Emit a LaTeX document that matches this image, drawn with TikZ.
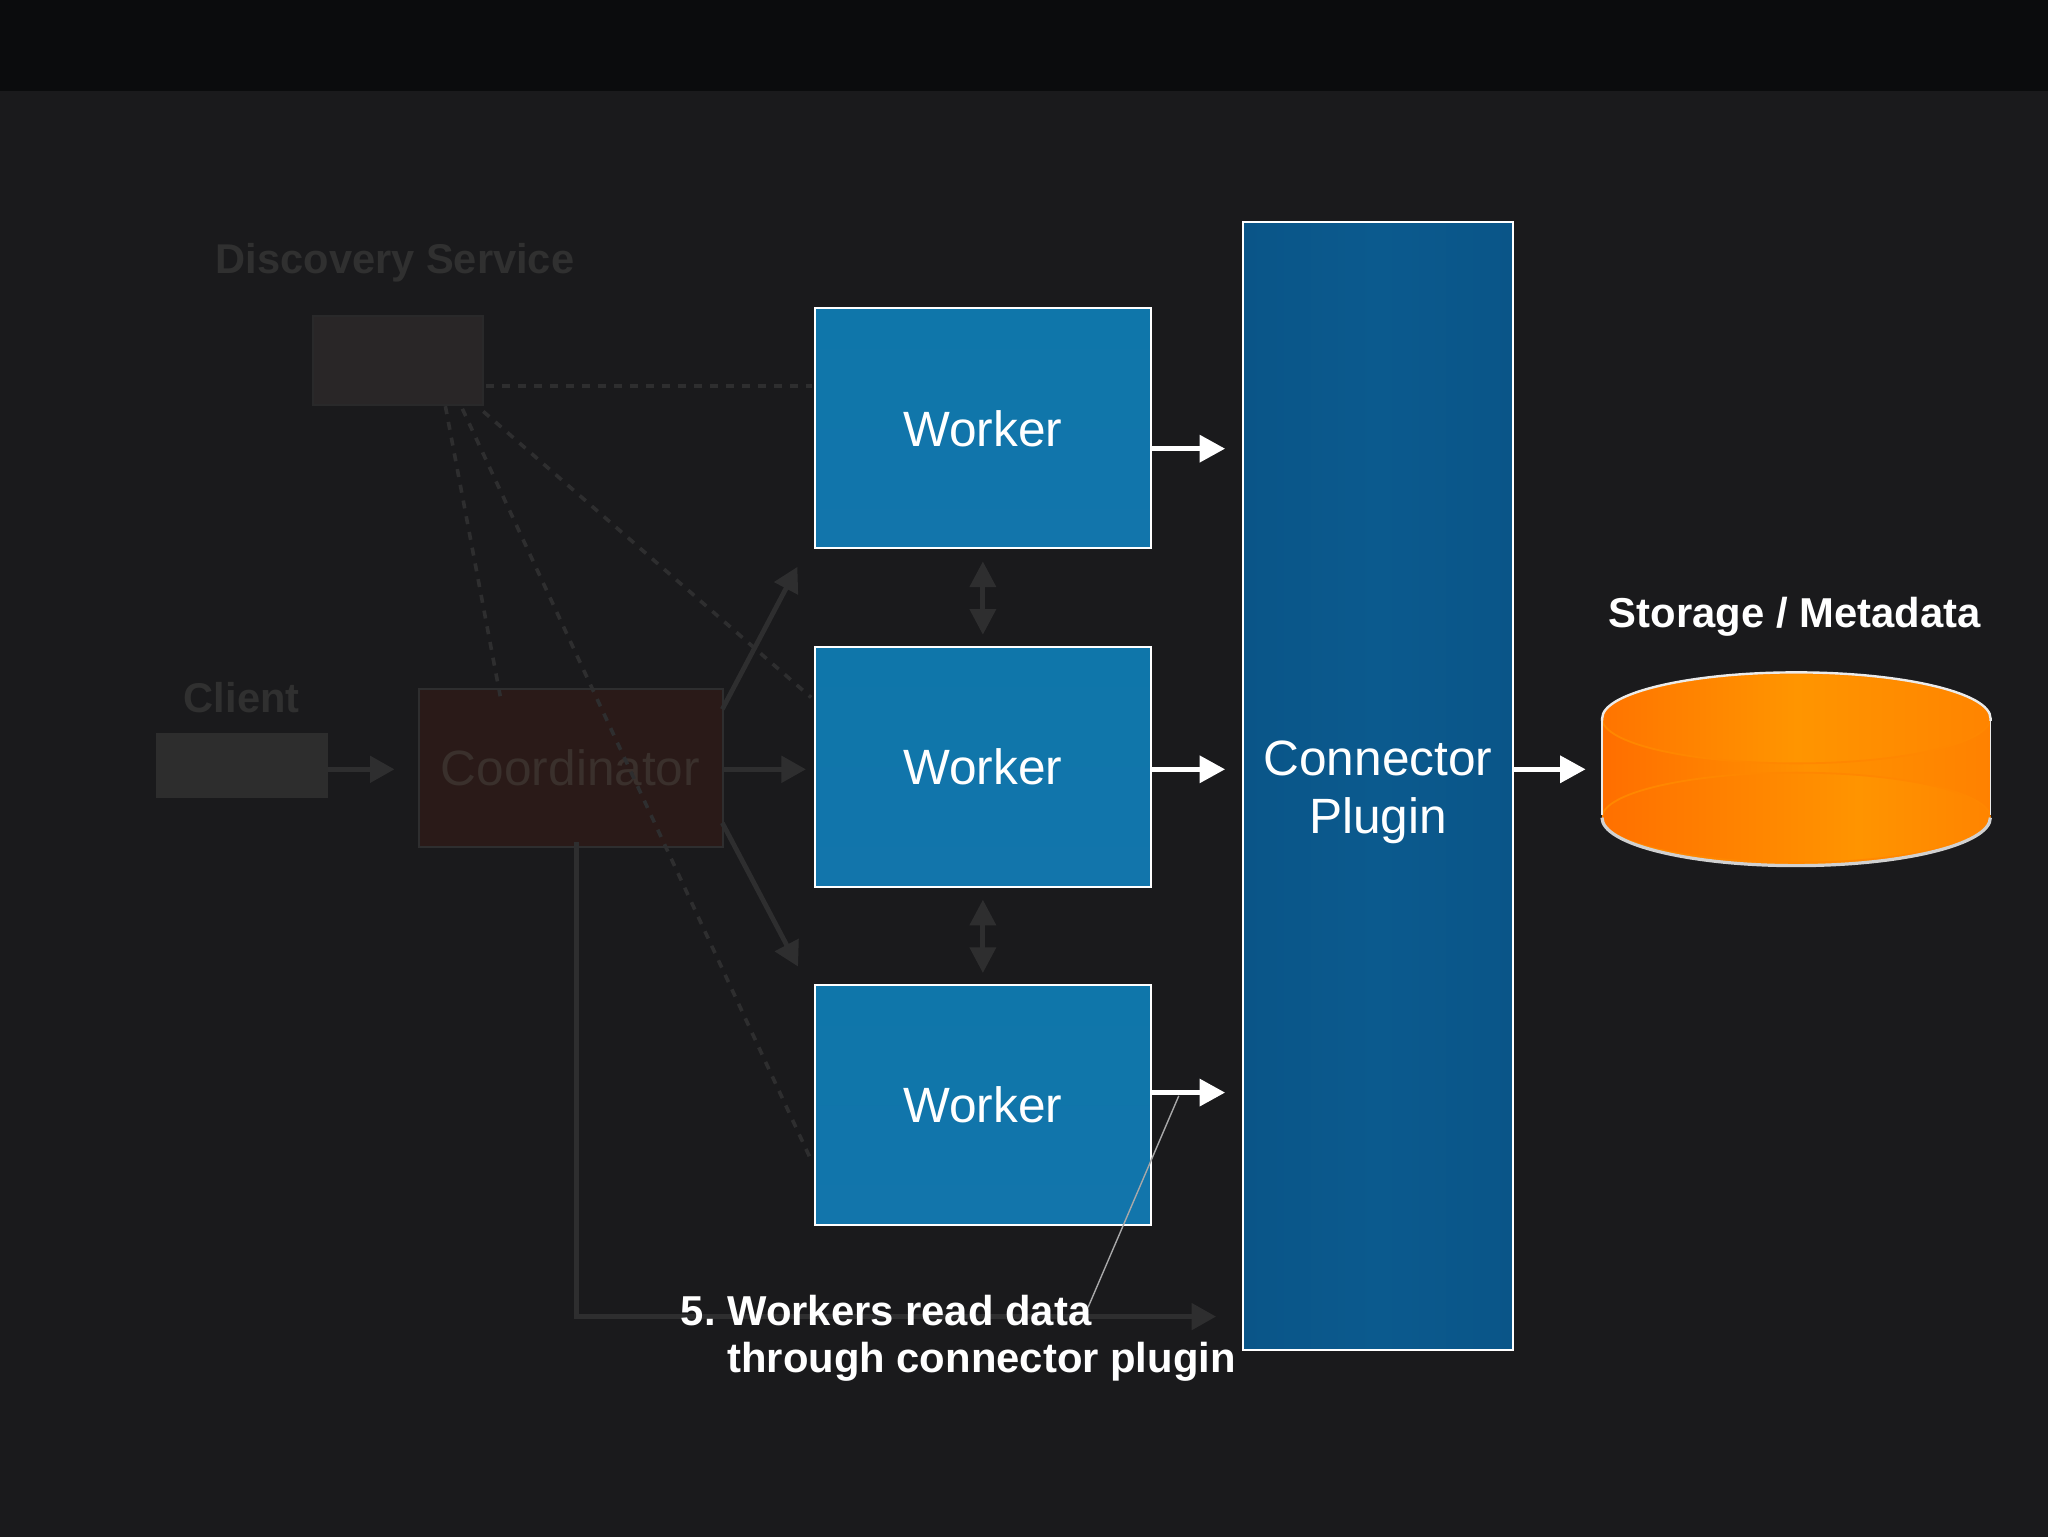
\documentclass[tikz,border=0pt]{standalone}
\usepackage{fontspec}
\setmainfont{Liberation Sans}
\usetikzlibrary{arrows.meta,calc}
\definecolor{bgc}{HTML}{1A1A1C}
\definecolor{barc}{HTML}{0B0C0D}
\definecolor{workerc}{HTML}{0F76AA}
\definecolor{workerd}{HTML}{1275AB}
\definecolor{plugc}{HTML}{0B5A8E}
\definecolor{plugd}{HTML}{0A5588}
\definecolor{dimtxt}{HTML}{303030}
\definecolor{dimline}{HTML}{2E2E2F}
\definecolor{dimdash}{HTML}{2E2E2F}
\definecolor{coordc}{HTML}{2A1A18}
\definecolor{coordt}{HTML}{3A302C}
\definecolor{discc}{HTML}{292627}
\definecolor{clic}{HTML}{2D2D2D}
\definecolor{orga}{HTML}{FF6E00}
\definecolor{orgb}{HTML}{FF9200}
\definecolor{orgc}{HTML}{FF8100}
\definecolor{orgd}{HTML}{FF7400}
\definecolor{orge}{HTML}{FF9500}
\definecolor{orgf}{HTML}{FF8400}
\definecolor{orgg}{HTML}{FF7000}
\definecolor{orgh}{HTML}{FF9400}
\definecolor{orgi}{HTML}{FF8400}
\definecolor{orgedge}{HTML}{FF8700}
\pgfdeclarehorizontalshading{drumbody}{100bp}{color(0bp)=(orga); color(25bp)=(orga); color(52bp)=(orgb); color(75bp)=(orgc); color(100bp)=(orgc)}
\pgfdeclarehorizontalshading{drumtop}{100bp}{color(0bp)=(orgd); color(25bp)=(orgd); color(50bp)=(orge); color(75bp)=(orgf); color(100bp)=(orgf)}
\pgfdeclarehorizontalshading{drumlow}{100bp}{color(0bp)=(orgg); color(25bp)=(orgg); color(58bp)=(orgh); color(75bp)=(orgi); color(100bp)=(orgi)}
\def\ux{0.65306pt}
\def\rx{97.1pt}
\def\ryt{23pt}
\def\ryb{24pt}
\tikzset{
  box/.style={rectangle,inner sep=0pt,outer sep=0pt},
  workerbox/.style={box,draw=white,line width=1pt,top color=workerc,bottom color=workerd,text=white,minimum width=168pt,minimum height=120pt,font=\fontsize{24.8}{29}\selectfont},
  plugbox/.style={box,draw=white,line width=1pt,left color=plugd,right color=plugd,middle color=plugc,text=white,minimum width=135.2pt,minimum height=564pt,font=\fontsize{24.8}{29}\selectfont,align=center},
  dimhead/.style={inner sep=0pt,text=dimtxt,font=\bfseries\fontsize{20.8}{24}\selectfont},
  whitehead/.style={inner sep=0pt,text=white,font=\bfseries\fontsize{20.9}{23.8}\selectfont,align=left},
  whitearrow/.style={draw=white,line width=2.7pt,-{Triangle[length=12.8pt,width=13.2pt]}},
  dimarrow/.style={draw=dimline,line width=2.4pt,-{Triangle[length=12.2pt,width=13pt]}},
  dimboth/.style={draw=dimline,line width=2.4pt,{Triangle[length=12.8pt,width=12.8pt]}-{Triangle[length=12.8pt,width=12.8pt]}},
  dimdashes/.style={draw=dimdash,line width=1.8pt,dash pattern=on 4pt off 4pt},
  noteline/.style={draw=white!62!bgc,line width=0.7pt}
}
\begin{document}
\begin{tikzpicture}[x=\ux,y=-\ux]
\useasboundingbox (0,0) rectangle (1568,1176);
\fill[bgc] (-4,-4) rectangle (1572,1180);
\fill[barc] (-4,-4) rectangle (1572,70);

% dim (faded) part
\node[box,draw=dimline!75!bgc,line width=1pt,fill=discc,minimum width=85pt,minimum height=44.2pt] (disc) at (304.5,276) {};
\node[dimhead] (disct) at (302.5,201) {Discovery Service};
\node[box,fill=clic,minimum width=85.6pt,minimum height=32.6pt] (cli) at (185.3,586) {};
\node[dimhead] (clit) at (185,534) {Client};
\node[box,draw=dimline,line width=1pt,fill=coordc,text=coordt,minimum width=152pt,minimum height=79pt,font=\fontsize{24.8}{29}\selectfont] (coord) at (436.8,588) {Coordinator};

% the workers and the plugin
\node[workerbox] (w1) at (752.5,328) {Worker};
\node[workerbox] (w2) at (752.5,587) {Worker};
\node[workerbox] (w3) at (752.5,846) {Worker};
\node[plugbox] (plug) at (1055,602) {\rule{0pt}{23.4pt}Connector\\Plugin};

% free ends of the connectors
\coordinate (t1) at (938,343.5);
\coordinate (t2) at (938,589);
\coordinate (t3) at (938,836.5);
\coordinate (tp) at (1214,589);
\coordinate (tc) at (302,589);
\coordinate (tw) at (617,589);
\coordinate (cua) at (553,543);
\coordinate (cub) at (610.5,434);
\coordinate (cda) at (553,630);
\coordinate (cdb) at (611,740);
\coordinate (bt) at (441.5,645);
\coordinate (bc) at (441.5,1008);
\coordinate (be) at (931,1008);
\coordinate (d0s) at (372,295.6);
\coordinate (d0e) at (622,295.6);
\coordinate (d1a) at (341,311);
\coordinate (d1b) at (383,533);
\coordinate (d2a) at (354,313);
\coordinate (d2b) at (620,886);
\coordinate (d3a) at (370,315);
\coordinate (d3b) at (621,534);
\coordinate (na) at (902.5,839);
\coordinate (nb) at (833,1001);

% dim connectors
\draw[dimarrow] (cli.east |- tc) -- (tc);
\draw[dimarrow] (coord.east |- tw) -- (tw);
\draw[dimarrow] (cua) -- (cub);
\draw[dimarrow] (cda) -- (cdb);
\draw[dimarrow] (bt) -- (bc) -- (be);
\draw[dimboth,shorten <=6.5pt,shorten >=6pt] (w1.south) -- (w2.north);
\draw[dimboth,shorten <=6.5pt,shorten >=6pt] (w2.south) -- (w3.north);
\draw[dimdashes] (d0s) -- (d0e);
\draw[dimdashes] (d1a) -- (d1b);
\draw[dimdashes] (d2a) -- (d2b);
\draw[dimdashes] (d3a) -- (d3b);

% white connectors
\draw[whitearrow] (w1.east |- t1) -- (t1);
\draw[whitearrow] (w2.east |- t2) -- (t2);
\draw[whitearrow] (w3.east |- t3) -- (t3);
\draw[whitearrow] (plug.east |- tp) -- (tp);

% the storage drum
\begin{scope}
  \clip (1226.5,550) arc[start angle=180,end angle=0,x radius=\rx,y radius=\ryt]
     -- (1524,626) arc[start angle=0,end angle=-180,x radius=\rx,y radius=\ryb] -- cycle;
  \fill[shading=drumbody] (1226,510) rectangle (1525,665);
  \fill[shading=drumtop] (1375.2,550) ellipse[x radius=\rx,y radius=22.5pt];
  \fill[shading=drumlow] (1375.2,626) ellipse[x radius=\rx,y radius=22.5pt];
  \draw[orgedge,line width=.9pt] (1375.2,550) ellipse[x radius=\rx,y radius=22.5pt];
  \draw[orgedge,line width=.9pt] (1375.2,626) ellipse[x radius=\rx,y radius=22.5pt];
\end{scope}
\draw[white!92!black,line width=1.2pt] (1524,552) -- (1524,550) arc[start angle=0,end angle=180,x radius=\rx,y radius=\ryt] -- (1226.5,552);
\draw[white!92!black,line width=.9pt] (1226.5,552) -- (1226.5,624);
\draw[white!92!black,line width=.9pt] (1524,552) -- (1524,624);
\draw[white!82!black,line width=1.6pt] (1226.5,626) arc[start angle=180,end angle=360,x radius=\rx,y radius=\ryb];

% labels
\node[whitehead] (stt) at (1374,472) {Storage / Metadata};
\node[whitehead,anchor=north west] (note) at (521,991) {5.~Workers read data\\\hspace*{23.2pt}through connector plugin};
\draw[noteline] (na) -- (nb);
\end{tikzpicture}
\end{document}
